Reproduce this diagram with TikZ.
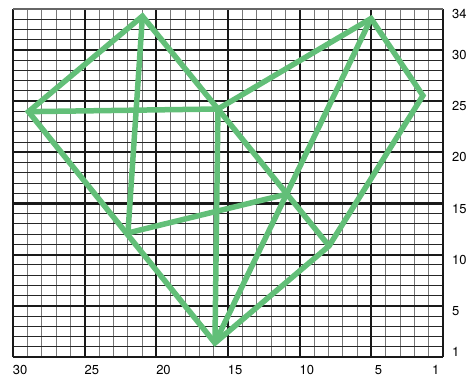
\documentclass[tikz,border=0pt]{standalone}
\usepackage{fontspec}
\setmainfont{TeX Gyre Heros}
\usepackage{xcolor}
\usepackage{tikz}
\definecolor{VerdeTrazo}{RGB}{98,191,120}
\definecolor{GrisMalla}{RGB}{120,120,120}

\begin{document}
\begin{tikzpicture}[x=14.333bp,y=10.235bp,
  cifra/.style={font=\fontsize{13bp}{14bp}\selectfont,inner sep=0pt}]
  \useasboundingbox (-13bp,-21bp) rectangle (454bp,357bp);
  % malla fina
  \foreach \i in {0,...,30} \draw[GrisMalla,line width=0.9bp] (\i,0)--(\i,34);
  \foreach \j in {0,...,34} \draw[black!85,line width=0.9bp] (0,\j)--(30,\j);
  % malla gruesa
  \foreach \i in {0,5,...,30} \draw[black!90,line width=2.2bp] (\i,0)--(\i,34);
  \foreach \j in {0,5,...,30} \draw[black!90,line width=2.2bp] (0,\j)--(30,\j);
  \draw[black!60,line width=2.2bp] (0,34)--(30,34);
  % numeros
  \foreach \k in {30,25,20,15,10,5,1}
    \node[cifra] (col\k) at ({30.5-\k},-1.3) {\k};
  \foreach \r in {34,30,25,20,15,10,5,1}
    \node[cifra,anchor=west] (fila\r) at (30.63,{\r-0.5}) {\r};
  % vertices
  \coordinate (A) at (9.03,33.3);
  \coordinate (B) at (1.08,23.97);
  \coordinate (C) at (14.30,24.23);
  \coordinate (D) at (24.98,33.07);
  \coordinate (E) at (28.6,25.54);
  \coordinate (F) at (19.15,15.93);
  \coordinate (G) at (22.05,10.85);
  \coordinate (H) at (14.09,1.37);
  \coordinate (I) at (8.02,12.12);
  % trazo verde
  \draw[VerdeTrazo,line width=5.5bp,line join=miter]
    (B)--(A)--(C)--(D)--(E)--(G)--(H)--cycle;
  \draw[VerdeTrazo,line width=5.5bp] (B)--(C);
  \draw[VerdeTrazo,line width=5.5bp] (A)--(I);
  \draw[VerdeTrazo,line width=5.5bp] (C)--(H);
  \draw[VerdeTrazo,line width=5.5bp] (D)--(H);
  \draw[VerdeTrazo,line width=5.5bp] (C)--(G);
  \draw[VerdeTrazo,line width=5.5bp] (I)--(F);
\end{tikzpicture}
\end{document}
